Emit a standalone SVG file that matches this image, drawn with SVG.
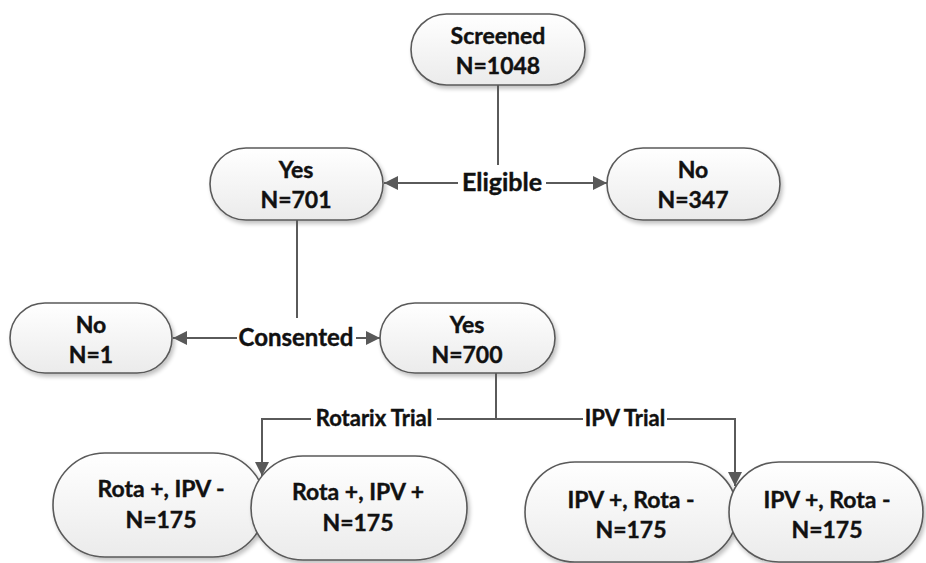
<svg xmlns="http://www.w3.org/2000/svg" width="926" height="563" viewBox="0 0 926 563">
<defs>
<linearGradient id="g" x1="0" y1="0" x2="0" y2="1">
<stop offset="0" stop-color="#ffffff"/>
<stop offset="1" stop-color="#ebebeb"/>
</linearGradient>
<filter id="sh" x="-10%" y="-10%" width="125%" height="130%">
<feGaussianBlur in="SourceAlpha" stdDeviation="2"/>
<feOffset dx="2" dy="3" result="b"/>
<feComponentTransfer><feFuncA type="linear" slope="0.25"/></feComponentTransfer>
<feMerge><feMergeNode/><feMergeNode in="SourceGraphic"/></feMerge>
</filter>
<marker id="ah" viewBox="0 0 10 10" refX="10" refY="5" markerWidth="7" markerHeight="7" markerUnits="strokeWidth" orient="auto">
<path d="M0,0 L10,5 L0,10 z" fill="#595959"/>
</marker>
</defs>
<style>
.box{fill:url(#g);stroke:#5a5a5a;stroke-width:1.6;filter:url(#sh)}
.t{font-family:Lato,"Open Sans","Liberation Sans",sans-serif;font-weight:bold;font-size:23px;fill:#111;stroke:#111;stroke-width:0.4;text-anchor:middle}
.tb{font-size:23px}
.lbl{font-family:Lato,"Open Sans","Liberation Sans",sans-serif;font-weight:bold;fill:#111;stroke:#111;stroke-width:0.4;text-anchor:middle}
.c{fill:none;stroke:#5a5a5a;stroke-width:2}
.a{marker-end:url(#ah)}
</style>
<rect width="926" height="563" fill="#ffffff"/>

<g id="screened"><rect class="box" x="411" y="14" width="174" height="71" rx="35.5"/><text class="t" x="498" y="44">Screened</text><text class="t" x="498" y="74">N=1048</text></g>
<g id="elig-yes"><rect class="box" x="210" y="148" width="173" height="72" rx="36"/><text class="t" x="296" y="178">Yes</text><text class="t" x="296" y="208">N=701</text></g>
<g id="elig-no"><rect class="box" x="607" y="148" width="173" height="72" rx="36"/><text class="t" x="693" y="178">No</text><text class="t" x="693" y="208">N=347</text></g>
<g id="cons-no"><rect class="box" x="10" y="303" width="162" height="70" rx="35"/><text class="t" x="91" y="333">No</text><text class="t" x="91" y="363">N=1</text></g>
<g id="cons-yes"><rect class="box" x="380" y="303" width="175" height="70" rx="35"/><text class="t" x="467" y="333">Yes</text><text class="t" x="467" y="363">N=700</text></g>
<g id="rota-ipvneg"><rect class="box" x="53" y="453" width="212" height="104" rx="52"/><text class="t tb" x="161" y="497">Rota +, IPV -</text><text class="t tb" x="161" y="528">N=175</text></g>
<g id="rota-ipvpos"><rect class="box" x="251" y="456" width="216" height="104" rx="52"/><text class="t tb" x="358" y="500">Rota +, IPV +</text><text class="t tb" x="358" y="531">N=175</text></g>
<g id="ipv-rotaneg-1"><rect class="box" x="525" y="462" width="212" height="100" rx="50"/><text class="t tb" x="631" y="508">IPV +, Rota -</text><text class="t tb" x="631" y="538">N=175</text></g>
<g id="ipv-rotaneg-2"><rect class="box" x="729" y="462" width="194" height="100" rx="50"/><text class="t tb" x="827" y="508">IPV +, Rota -</text><text class="t tb" x="827" y="538">N=175</text></g>

<g id="connectors">
<line class="c" x1="498" y1="85" x2="498" y2="165"/>
<line class="c a" x1="458" y1="183" x2="384" y2="183"/>
<line class="c a" x1="546" y1="183" x2="607" y2="183"/>
<text class="lbl" x="502" y="191" font-size="25">Eligible</text>
<line class="c" x1="297" y1="220" x2="297" y2="318"/>
<line class="c a" x1="237" y1="338" x2="173" y2="338"/>
<line class="c a" x1="356" y1="338" x2="380" y2="338"/>
<text class="lbl" x="296" y="346" font-size="24">Consented</text>
<line class="c" x1="496" y1="373" x2="496" y2="419"/>
<polyline class="c a" points="311,419 262,419 262,476"/>
<line class="c" x1="437" y1="419" x2="583" y2="419"/>
<polyline class="c a" points="667,419 735,419 735,486"/>
<text class="lbl" x="374" y="426" font-size="22">Rotarix Trial</text>
<text class="lbl" x="625" y="426" font-size="22">IPV Trial</text>
</g>
</svg>
